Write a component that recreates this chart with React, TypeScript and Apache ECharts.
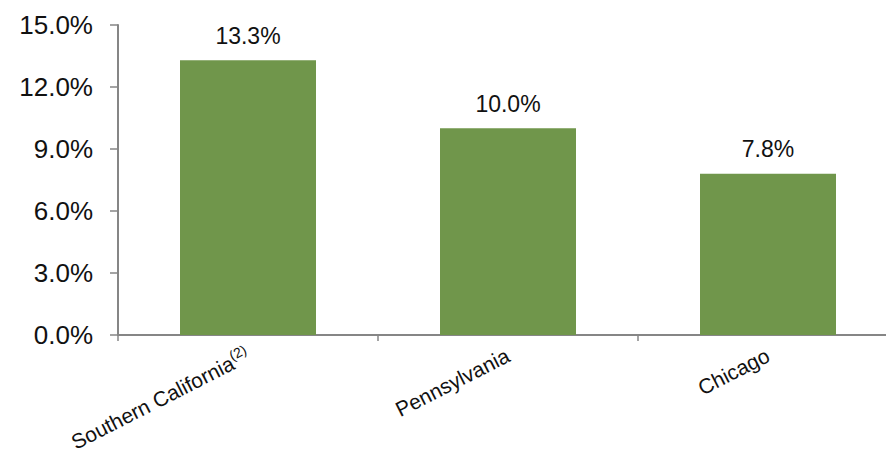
import React, { useEffect, useRef } from "react";
import * as echarts from "echarts";

const categories = ["Southern California", "Pennsylvania", "Chicago"];
const superscripts = ["(2)", "", ""];
const values = [13.3, 10.0, 7.8];
const yTicks = [0, 3, 6, 9, 12, 15];

const FONT = "Liberation Sans, Arial, sans-serif";

export default function App() {
  const ref = useRef<HTMLDivElement>(null);
  useEffect(() => {
    const chart = echarts.init(ref.current!, null, { renderer: "svg" });
    chart.setOption({
      animation: false,
      grid: { left: 118, right: 0, top: 25, bottom: 122, containLabel: false },
      xAxis: {
        type: "category",
        data: categories,
        axisLine: { lineStyle: { color: "#868686", width: 2 } },
        axisTick: { show: true, length: 6, lineStyle: { color: "#868686", width: 1.5 } },
        axisLabel: {
          rotate: 27,
          margin: 19,
          color: "#111",
          fontFamily: FONT,
          fontSize: 21,
          formatter: (v: string, i: number) =>
            superscripts[i] ? `${v}{sup|${superscripts[i]}}` : v,
          rich: {
            sup: { fontSize: 14, verticalAlign: "top", padding: [0, 0, 12, 0], color: "#111", fontFamily: FONT },
          },
        },
      },
      yAxis: {
        type: "value",
        min: yTicks[0],
        max: yTicks[yTicks.length - 1],
        interval: 3,
        splitLine: { show: false },
        axisLine: { show: true, lineStyle: { color: "#868686", width: 2 } },
        axisTick: { show: true, length: 8, inside: false, lineStyle: { color: "#868686", width: 1.5 } },
        axisLabel: {
          margin: 25,
          color: "#111",
          fontSize: 26,
          fontFamily: FONT,
          formatter: (v: number) => v.toFixed(1) + "%",
        },
      },
      series: [
        {
          type: "bar",
          data: values,
          barWidth: 136,
          itemStyle: { color: "#70964B" },
          label: {
            show: true,
            position: "top",
            distance: 13,
            color: "#111",
            fontSize: 23,
            fontFamily: FONT,
            formatter: (p: any) => p.value.toFixed(1) + "%",
          },
        },
      ],
    });
    return () => chart.dispose();
  }, []);
  return (
    <div style={{ width: 886, height: 457, position: "absolute", left: 0, top: 0, overflow: "hidden" }}>
      <div ref={ref} style={{ width: 898, height: 457 }} />
    </div>
  );
}
